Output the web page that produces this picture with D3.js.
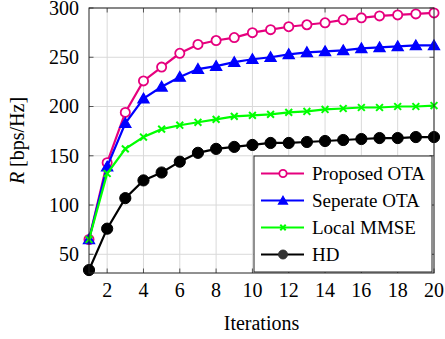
<!DOCTYPE html>
<html>
<head>
<meta charset="utf-8">
<script src="https://cdn.jsdelivr.net/npm/d3@7"></script>
<style>
  body { margin: 0; background: #fff; }
  text { font-family: "Liberation Serif", "DejaVu Serif", serif; }
</style>
</head>
<body>
<div id="chart"></div>
<script>
// data
const iterations = d3.range(1, 21);
const proposedOTA = [65, 143, 194, 226, 240, 254, 263, 267, 270, 275, 278, 281, 283, 285, 288, 290, 292, 293, 294, 295];
const separateOTA = [65, 139, 183, 208, 220, 230, 238, 241, 245, 248, 250, 253, 255, 256, 257, 259, 260, 261, 262, 262];
const localMMSE = [65, 132, 157, 169, 177, 181, 184, 187, 190, 191, 192, 194, 195, 197, 198, 199, 199, 200, 200, 201];
const hdValues = [34, 76, 107, 125, 133, 144, 153, 157, 159, 161, 163, 163, 164, 165, 166, 167, 168, 168, 169, 169];
const xTicks = [2, 4, 6, 8, 10, 12, 14, 16, 18, 20];
const yTicks = [50, 100, 150, 200, 250, 300];
const seriesNames = ["Proposed OTA", "Seperate OTA", "Local MMSE", "HD"];

let canvas = {
  size: { width: 445, height: 339 },
  margin: { top: 8, bottom: 66, left: 89, right: 11 }
};

const series = [
  { name: seriesNames[0], values: proposedOTA, color: "rgb(230,0,126)", marker: "circle" },
  { name: seriesNames[1], values: separateOTA, color: "rgb(0,0,255)", marker: "triangle" },
  { name: seriesNames[2], values: localMMSE, color: "rgb(0,255,0)", marker: "cross" },
  { name: seriesNames[3], values: hdValues, color: "black", marker: "dot" }
];

const W = canvas.size.width - canvas.margin.left - canvas.margin.right;
const H = canvas.size.height - canvas.margin.top - canvas.margin.bottom;

const svg = d3.select("#chart").append("svg")
  .attr("width", canvas.size.width)
  .attr("height", canvas.size.height);

const g = svg.append("g")
  .attr("transform", `translate(${canvas.margin.left},${canvas.margin.top})`);

const x = d3.scaleLinear().domain([1, 20]).range([0, W]);
const y = d3.scaleLinear().domain([31, 300]).range([H, 0]);

// grid
g.append("g").selectAll("line").data(xTicks).join("line")
  .attr("x1", d => x(d)).attr("x2", d => x(d))
  .attr("y1", 0).attr("y2", H)
  .attr("stroke", "#d9d9d9").attr("stroke-width", 1);
g.append("g").selectAll("line").data(yTicks).join("line")
  .attr("x1", 0).attr("x2", W)
  .attr("y1", d => y(d)).attr("y2", d => y(d))
  .attr("stroke", "#d9d9d9").attr("stroke-width", 1);

// inner ticks on all sides
const tk = 4.5;
const tickG = g.append("g").attr("stroke", "#555").attr("stroke-width", 1);
xTicks.forEach(d => {
  tickG.append("line").attr("x1", x(d)).attr("x2", x(d)).attr("y1", H).attr("y2", H - tk);
  tickG.append("line").attr("x1", x(d)).attr("x2", x(d)).attr("y1", 0).attr("y2", tk);
});
yTicks.forEach(d => {
  tickG.append("line").attr("x1", 0).attr("x2", tk).attr("y1", y(d)).attr("y2", y(d));
  tickG.append("line").attr("x1", W).attr("x2", W - tk).attr("y1", y(d)).attr("y2", y(d));
});

// tick labels
g.append("g").selectAll("text").data(xTicks).join("text")
  .attr("x", d => x(d)).attr("y", H + 24)
  .attr("text-anchor", "middle").attr("font-size", "20px")
  .text(d => d);
g.append("g").selectAll("text").data(yTicks).join("text")
  .attr("x", -10).attr("y", d => y(d)).attr("dy", "0.34em")
  .attr("text-anchor", "end").attr("font-size", "20px")
  .text(d => d);

// axis labels
g.append("text")
  .attr("x", W / 2).attr("y", H + 57)
  .attr("text-anchor", "middle").attr("font-size", "20px")
  .text("Iterations");
const yl = g.append("text")
  .attr("transform", `translate(${-65},${H / 2}) rotate(-90)`)
  .attr("text-anchor", "middle").attr("font-size", "20px");
yl.append("tspan").attr("font-style", "italic").text("R");
yl.append("tspan").text(" [bps/Hz]");

// markers
function drawMarker(sel, type, color, scale) {
  const s = scale || 1;
  if (type === "circle") {
    sel.append("circle").attr("r", 4.6 * s)
      .attr("fill", "white").attr("stroke", color).attr("stroke-width", 1.8);
  } else if (type === "triangle") {
    sel.append("path").attr("d", d3.symbol(d3.symbolTriangle, 55 * s * s)())
      .attr("transform", "translate(0,1)")
      .attr("fill", color).attr("stroke", color).attr("stroke-width", 1.2);
  } else if (type === "cross") {
    const a = 3.4 * s;
    sel.append("path").attr("d", `M${-a},${-a}L${a},${a}M${-a},${a}L${a},${-a}`)
      .attr("stroke", color).attr("stroke-width", 2);
  } else {
    sel.append("circle").attr("r", 5.6 * s)
      .attr("fill", color).attr("stroke", color).attr("stroke-width", 1);
  }
}

const line = d3.line().x((d, i) => x(iterations[i])).y(d => y(d));

series.forEach(s => {
  const sg = g.append("g");
  sg.append("path").datum(s.values)
    .attr("d", line)
    .attr("fill", "none").attr("stroke", s.color).attr("stroke-width", 2.2);
  sg.selectAll("g.m").data(s.values).join("g")
    .attr("class", "m")
    .attr("transform", (d, i) => `translate(${x(iterations[i])},${y(d)})`)
    .each(function () { drawMarker(d3.select(this), s.marker, s.color); });
});

// frame
g.append("rect").attr("width", W).attr("height", H)
  .attr("fill", "none").attr("stroke", "#222").attr("stroke-width", 1);

// legend
const lg = g.append("g").attr("transform", `translate(${W - 180},${H - 117})`);
lg.append("rect").attr("width", 178).attr("height", 116)
  .attr("fill", "white").attr("stroke", "#222").attr("stroke-width", 1);
series.forEach((s, i) => {
  const row = lg.append("g").attr("transform", `translate(0,${17.5 + i * 27})`);
  row.append("line").attr("x1", 7).attr("x2", 50)
    .attr("stroke", s.color).attr("stroke-width", 2.2);
  const m = row.append("g").attr("transform", "translate(29,0)");
  drawMarker(m, s.marker, s.marker === "dot" ? "#333" : s.color, 0.8);
  row.append("text").attr("x", 58).attr("dy", "0.35em")
    .attr("font-size", "19px").text(s.name);
});
</script>
</body>
</html>
